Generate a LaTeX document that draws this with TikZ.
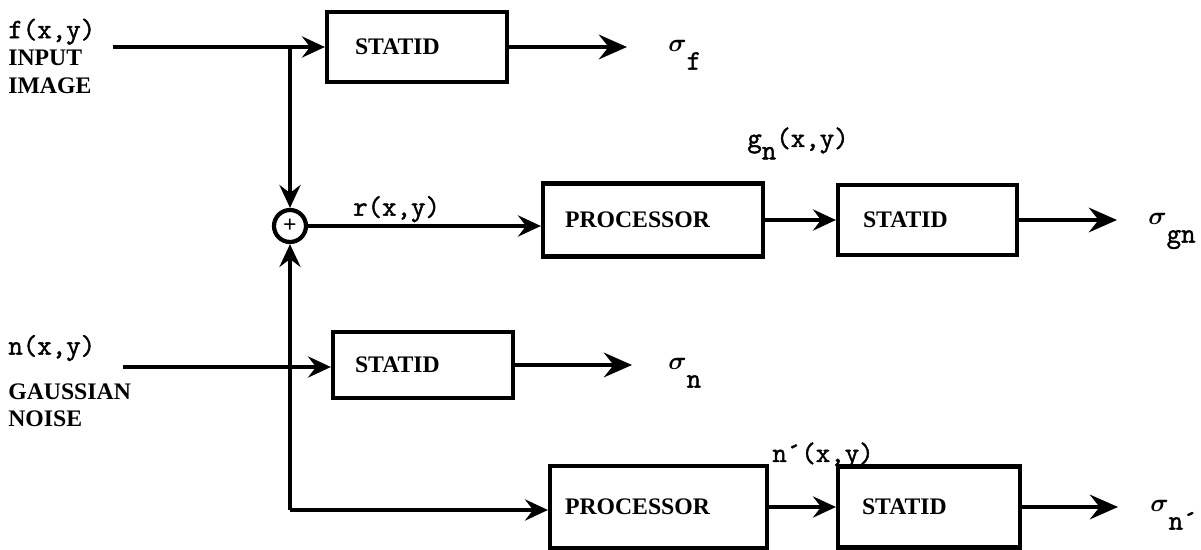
\documentclass[tikz,border=0pt]{standalone}
\usepackage{fontspec}
\setmainfont{Liberation Serif}
\setmonofont{Latin Modern Mono}[AutoFakeBold=1.6]
\usepackage{tikz}
\usetikzlibrary{arrows.meta,positioning}
\newcommand{\typew}{\ttfamily\bfseries\fontsize{16}{15.6}\selectfont}
\newcommand{\sigout}[1]{{\fontsize{14.4}{14.4}\selectfont\boldmath$\sigma$}\raisebox{-10pt}{\typew #1}}

\begin{document}
\begin{tikzpicture}[x=0.02cm, y=-0.02cm,
    every node/.style={font=\fontsize{13.5}{15.6}\selectfont\bfseries},
    blk/.style={draw, line width=2.4pt, rectangle, align=left, inner ysep=0pt},
    arr/.style={line width=2.4pt, -{Stealth[length=13pt,width=12pt,inset=4.5pt]}},
    outarr/.style={line width=2.4pt, -{Stealth[length=16pt,width=14pt,inset=5.5pt]}}]
    \useasboundingbox (0,0) rectangle (1201,550);

    % Inputs
    \node[anchor=west, align=left, inner sep=0pt] (flab) at (8,56) {{\typew f(x,y)}\\INPUT\\IMAGE};
    \node[anchor=west, inner sep=0pt] (nlab) at (8,348) {\typew n(x,y)};
    \node[anchor=west, align=left, inner sep=0pt] (noiselab) at (8,405) {GAUSSIAN\\NOISE};
    \coordinate (fin) at (113,47);
    \coordinate (nin) at (123,367);
    \coordinate (jtop) at (290,47);
    \coordinate (jbot) at (290,510);

    % Blocks
    \node[blk, inner xsep=0.56cm, text width=2.48cm, minimum height=1.4cm] (stat1) at (417,47) {STATID};
    \node[circle, draw, line width=2.4pt, minimum size=0.64cm, inner sep=0pt] (sum) at (290,226) {+};
    \node[blk, inner xsep=0.44cm, text width=3.52cm, minimum height=1.46cm] (proc1) at (653,220) {PROCESSOR};
    \node[blk, inner xsep=0.5cm, text width=2.58cm, minimum height=1.4cm] (stat2) at (927.5,220) {STATID};
    \node[blk, inner xsep=0.44cm, text width=2.72cm, minimum height=1.32cm] (stat3) at (423,365) {STATID};
    \node[blk, inner xsep=0.3cm, text width=3.74cm, minimum height=1.64cm] (proc2) at (658.5,507) {PROCESSOR};
    \node[blk, inner xsep=0.48cm, text width=2.68cm, minimum height=1.62cm] (stat4) at (929,507) {STATID};

    % Outputs
    \coordinate (ftip) at (627,47);
    \coordinate (ntip) at (632,365);
    \coordinate (gtip) at (1117,220);
    \coordinate (nptip) at (1118,507);
    \node[anchor=base west, inner sep=0pt] (sf) at (668,52) {\sigout{f}};
    \node[anchor=base west, inner sep=0pt] (sn) at (668,370) {\sigout{n}};
    \node[anchor=base west, inner sep=0pt] (sgn) at (1148,225) {\sigout{gn}};
    \node[anchor=base west, inner sep=0pt] (snp) at (1150,512) {\sigout{n´}};
    \node[anchor=base west, inner sep=0pt] (gnlab) at (747,147) {\typew g\raisebox{-7pt}{n}(x,y)};
    \node[anchor=base west, inner sep=0pt] (nplab) at (772,462) {\typew n´(x,y)};

    % Connections
    \draw[arr] (fin) -- (stat1.west);
    \draw[arr] (jtop) -- (sum.north);
    \draw[arr] (jbot) -- (sum.south);
    \draw[arr] (jbot) -- (jbot -| proc2.west);
    \draw[arr] (nin) -- (nin -| stat3.west);
    \draw[arr] (sum.east) -- (sum.east -| proc1.west) node[above, pos=0.38, inner sep=1pt] (rlab) {\typew r(x,y)};
    \draw[arr] (proc1.east) -- (stat2.west);
    \draw[arr] (proc2.east) -- (stat4.west);
    \draw[outarr] (stat1.east) -- (ftip);
    \draw[outarr] (stat3.east) -- (ntip);
    \draw[outarr] (stat2.east) -- (gtip);
    \draw[outarr] (stat4.east) -- (nptip);
\end{tikzpicture}
\end{document}
